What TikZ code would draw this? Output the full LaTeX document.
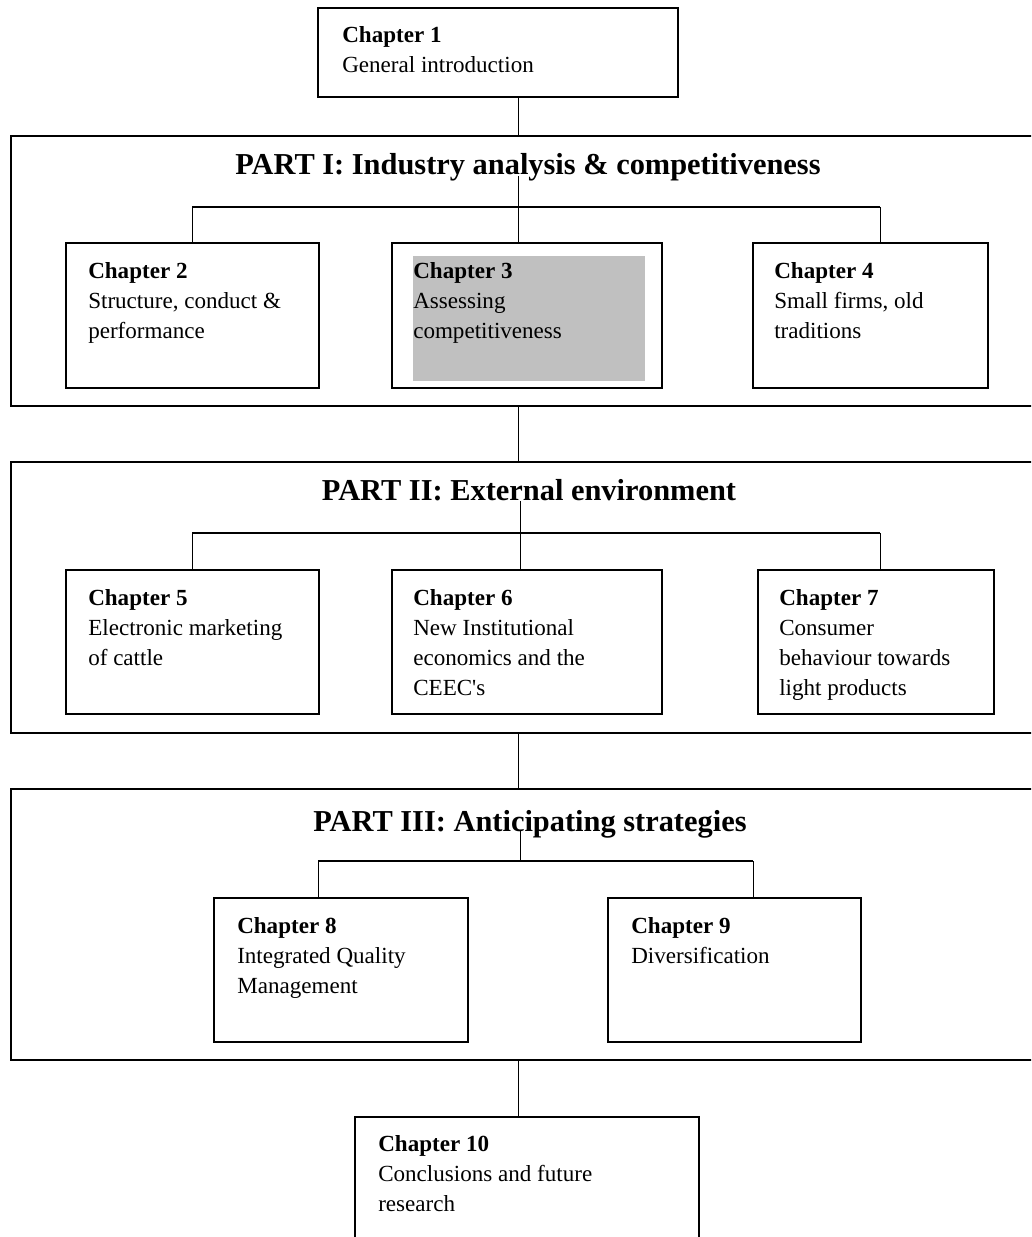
\documentclass[tikz,border=0pt]{standalone}
\usepackage{fontspec}
\setmainfont{Liberation Serif}
\usetikzlibrary{fit}
\begin{document}
\begin{tikzpicture}[x=0.75pt,y=-0.75pt,
  partbox/.style={draw, line width=1.5pt, inner sep=0pt},
  chapbox/.style={draw, line width=1.1pt, inner sep=0pt},
  % text block: its north edge lies 12pt (16px) above the first baseline
  chaptext/.style={anchor=north west, align=left, inner sep=0pt,
    font=\fontsize{17.3}{22.5}\selectfont,
    execute at begin node={\rule{0pt}{12pt}}},
  parttitle/.style={anchor=base, inner sep=0pt,
    font=\fontsize{22.8}{27}\selectfont\bfseries},
  link/.style={line width=0.75pt},
  bar/.style={line width=1.3pt}]
\useasboundingbox (0,0) rectangle (1031,1237);
\clip (0,0) rectangle (1031,1237);

% ---------- spine coordinates ----------
\coordinate (s0) at (518,0);
\coordinate (s1) at (518,176);
\coordinate (s2) at (520,501);
\coordinate (s3) at (520,830);

% ---------- Chapter 1 ----------
\node[chapbox, fit={(318,8) (678,97)}] (ch1) {};
\node[chaptext] (ch1t) at (342,26) {\textbf{Chapter 1}\\General introduction};

% ---------- Part I ----------
\node[partbox, fit={(11,136) (1046,406)}] (p1) {};
\node[parttitle] (p1t) at (528,175) {PART I: Industry analysis \& competitiveness};
\node[chapbox, fit={(66,243) (319,388)}] (ch2) {};
\node[chapbox, fit={(392,243) (662,388)}] (ch3) {};
\fill[fill={rgb,255:red,192;green,192;blue,192}] (413,256) rectangle (645,381);
\node[chapbox, fit={(753,243) (988,388)}] (ch4) {};
\node[chaptext] (ch2t) at (88,262) {\textbf{Chapter 2}\\Structure, conduct \&\\performance};
\node[chaptext] (ch3t) at (413,262) {\textbf{Chapter 3}\\Assessing\\competitiveness};
\node[chaptext] (ch4t) at (774,262) {\textbf{Chapter 4}\\Small firms, old\\traditions};

% ---------- Part II ----------
\node[partbox, fit={(11,462) (1046,733)}] (p2) {};
\node[parttitle] (p2t) at (529,500) {PART II: External environment};
\node[chapbox, fit={(66,570) (319,714)}] (ch5) {};
\node[chapbox, fit={(392,570) (662,714)}] (ch6) {};
\node[chapbox, fit={(758,570) (994,714)}] (ch7) {};
\node[chaptext] (ch5t) at (88,589) {\textbf{Chapter 5}\\Electronic marketing\\of cattle};
\node[chaptext] (ch6t) at (413,589) {\textbf{Chapter 6}\\New Institutional\\economics and the\\CEEC\textquotesingle s};
\node[chaptext] (ch7t) at (779,589) {\textbf{Chapter 7}\\Consumer\\behaviour towards\\light products};

% ---------- Part III ----------
\node[partbox, fit={(11,789) (1046,1060)}] (p3) {};
\node[parttitle] (p3t) at (530,831) {PART III: Anticipating strategies};
\node[chapbox, fit={(214,898) (468,1042)}] (ch8) {};
\node[chapbox, fit={(608,898) (861,1042)}] (ch9) {};
\node[chaptext] (ch8t) at (237,917) {\textbf{Chapter 8}\\Integrated Quality\\Management};
\node[chaptext] (ch9t) at (631,917) {\textbf{Chapter 9}\\Diversification};

% ---------- Chapter 10 ----------
\node[chapbox, fit={(355,1117) (699,1260)}] (ch10) {};
\node[chaptext] (ch10t) at (378,1135) {\textbf{Chapter 10}\\Conclusions and future\\research};

% ---------- links between levels ----------
\draw[link] (s0 |- ch1.south) -- (s0 |- p1.north);
\draw[link] (s0 |- p1.south) -- (s0 |- p2.north);
\draw[link] (s0 |- p2.south) -- (s0 |- p3.north);
\draw[link] (s0 |- p3.south) -- (s0 |- ch10.north);

% ---------- branches inside Part I ----------
\draw[link] (s1) -- (s1 |- ch3.north);
\coordinate (b1l) at (192,207);
\coordinate (b1r) at (880,207);
\draw[bar] (b1l) -- (b1r);
\draw[link] (b1l) -- (b1l |- ch2.north);
\draw[link] (b1r) -- (b1r |- ch4.north);

% ---------- branches inside Part II ----------
\draw[link] (s2) -- (s2 |- ch6.north);
\coordinate (b2l) at (192,533);
\coordinate (b2r) at (880,533);
\draw[bar] (b2l) -- (b2r);
\draw[link] (b2l) -- (b2l |- ch5.north);
\draw[link] (b2r) -- (b2r |- ch7.north);

% ---------- branches inside Part III ----------
\coordinate (b3l) at (318,861);
\coordinate (b3r) at (753,861);
\draw[link] (s3) -- (s3 |- b3l);
\draw[bar] (b3l) -- (b3r);
\draw[link] (b3l) -- (b3l |- ch8.north);
\draw[link] (b3r) -- (b3r |- ch9.north);
\end{tikzpicture}
\end{document}
